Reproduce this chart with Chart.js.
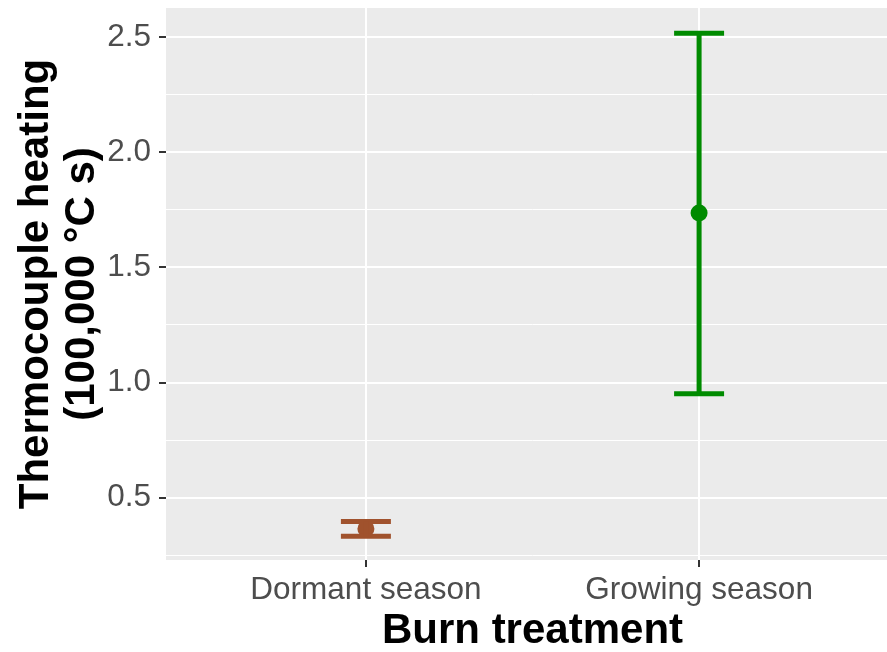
<!DOCTYPE html>
<html>
<head>
<meta charset="utf-8">
<script src="https://cdn.jsdelivr.net/npm/chart.js@4.4.1/dist/chart.umd.min.js"></script>
<style>
html, body { margin:0; padding:0; overflow:hidden; background:#fff; }
#wrap { width:900px; height:652px; position:relative; }
</style>
</head>
<body>
<div id="wrap"><canvas id="c" width="900" height="652"></canvas></div>
<script>
const categories = ['Dormant season', 'Growing season'];
const means = [0.365, 1.736];
const lower = [0.333, 0.951];
const upper = [0.397, 2.516];
const colors = ['#A0522D', '#008B00'];
const yTicks = [0.25, 0.5, 0.75, 1.0, 1.25, 1.5, 1.75, 2.0, 2.25, 2.5];
const yMajor = [0.5, 1.0, 1.5, 2.0, 2.5];
const capHalf = 0.075;

const datasets = [];
categories.forEach((cat, i) => {
  const x = i + 1;
  datasets.push({ type:'line', data:[{x:x,y:lower[i]},{x:x,y:upper[i]}], borderColor:colors[i], borderWidth:5, pointRadius:0, borderCapStyle:'butt' });
  datasets.push({ type:'line', data:[{x:x-capHalf,y:upper[i]},{x:x+capHalf,y:upper[i]}], borderColor:colors[i], borderWidth:5, pointRadius:0, borderCapStyle:'butt' });
  datasets.push({ type:'line', data:[{x:x-capHalf,y:lower[i]},{x:x+capHalf,y:lower[i]}], borderColor:colors[i], borderWidth:5, pointRadius:0, borderCapStyle:'butt' });
  datasets.push({ type:'scatter', data:[{x:x,y:means[i]}], backgroundColor:colors[i], borderColor:colors[i], borderWidth:0, pointRadius:8.5 });
});

const panelBg = {
  id:'panelBg',
  beforeDraw(chart) {
    const {ctx, chartArea:a} = chart;
    ctx.save();
    ctx.fillStyle = '#EBEBEB';
    ctx.fillRect(a.left, a.top, a.right - a.left, a.bottom - a.top);
    ctx.restore();
  }
};

const isMajor = v => yMajor.some(m => Math.abs(m - v) < 1e-9);

new Chart(document.getElementById('c'), {
  type:'scatter',
  data:{ datasets },
  plugins:[panelBg],
  options:{
    responsive:false,
    animation:false,
    layout:{ autoPadding:false, padding:{ top:8, right:1, left:0, bottom:0 } },
    plugins:{ legend:{display:false}, tooltip:{enabled:false} },
    scales:{
      x:{
        type:'linear', min:0.4, max:2.6,
        afterBuildTicks(s){ s.ticks = categories.map((c,i)=>({value:i+1})); },
        afterFit(s){ s.height = 92; s.paddingLeft = 0; s.paddingRight = 0; },
        grid:{ color:'#FFFFFF', lineWidth:2, tickColor:'#333333', tickWidth:2, tickLength:7, drawTicks:true },
        border:{ display:false },
        ticks:{ autoSkip:false, maxRotation:0, padding:4, color:'#4D4D4D', font:{ family:'Liberation Sans, Arial', size:31.5 }, callback:(v)=>categories[Math.round(v)-1] },
        title:{ display:true, text:'Burn treatment', color:'#000', font:{ family:'Liberation Sans, Arial', size:42, weight:'bold', lineHeight:1 }, padding:{ top:0, bottom:0 } }
      },
      y:{
        type:'linear', min:0.2295, max:2.626,
        afterBuildTicks(s){ s.ticks = yTicks.map(v=>({value:v})); },
        afterFit(s){ s.width = 166; s.paddingTop = 0; s.paddingBottom = 0; },
        grid:{
          color:'#FFFFFF',
          lineWidth:(c)=> isMajor(c.tick.value) ? 2 : 1,
          tickColor:(c)=> isMajor(c.tick.value) ? '#333333' : 'rgba(0,0,0,0)',
          tickWidth:2, tickLength:7
        },
        border:{ display:false },
        ticks:{ autoSkip:false, padding:8, color:'#4D4D4D', font:{ family:'Liberation Sans, Arial', size:31.5 }, callback:(v)=> isMajor(v) ? v.toFixed(1) : '' },
        title:{ display:true, text:['Thermocouple heating','(100,000 °C s)'], color:'#000', font:{ family:'Liberation Sans, Arial', size:42, weight:'bold', lineHeight:1.08 }, padding:{ top:14, bottom:0 } }
      }
    }
  }
});
</script>
</body>
</html>
